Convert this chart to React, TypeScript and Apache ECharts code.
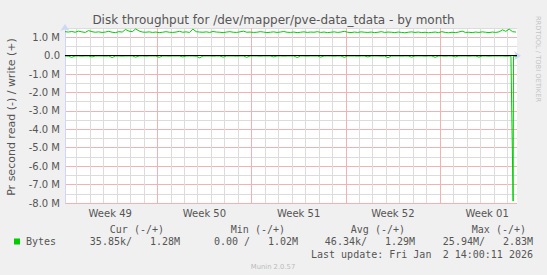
import React, { useEffect, useRef } from 'react';
import * as echarts from 'echarts';

// ---- texts ----
const TITLE = 'Disk throughput for /dev/mapper/pve-data_tdata - by month';
const Y_AXIS_NAME = 'Pr second read (-) / write (+)';
const SIDE_TEXT = 'RRDTOOL / TOBI OETIKER';
const FOOTER = 'Munin 2.0.57';

// ---- x axis (days since Sun 30 Nov 2025 00:00) ----
const X_MIN = 0.14;
const X_MAX = 33.72;
const WEEK_LABELS = ['Week 49', 'Week 50', 'Week 51', 'Week 52', 'Week 01'];
const WEEK_LABEL_DAYS = [3.5, 10.5, 17.5, 24.5, 31.5];
// every midnight inside the range; Sundays (7, 14, 21, 28) get the major colour
const DAY_LINES = [1, 2, 3, 4, 5, 6, 7, 8, 9, 10, 11, 12, 13, 14, 15, 16, 17, 18, 19, 20, 21, 22, 23, 24, 25, 26, 27, 28, 29, 30, 31, 32, 33];

// ---- y axis (M bytes/s) ----
const Y_MIN = -8;
const Y_MAX = 1.5;
const Y_INTERVAL = 0.5;

// ---- series samples (every 6h) ----
const SAMPLE_START = 0.14;
const SAMPLE_STEP = 0.25;
const WRITE_VALUES = [
  1.30, 1.28, 1.31, 1.27, 1.33, 1.29, 1.26, 1.36, 1.30, 1.27,
  1.29, 1.26, 1.28, 1.32, 1.27, 1.25, 1.30, 1.28, 1.42, 1.33,
  1.30, 1.45, 1.34, 1.28, 1.27, 1.29, 1.26, 1.28, 1.25, 1.27,
  1.30, 1.27, 1.26, 1.28, 1.32, 1.27, 1.29, 1.26, 1.44, 1.30,
  1.28, 1.27, 1.29, 1.26, 1.31, 1.28, 1.27, 1.25, 1.28, 1.30,
  1.27, 1.26, 1.29, 1.33, 1.27, 1.28, 1.26, 1.27, 1.30, 1.28,
  1.25, 1.27, 1.29, 1.26, 1.28, 1.31, 1.27, 1.26, 1.28, 1.25,
  1.27, 1.29, 1.26, 1.28, 1.27, 1.30, 1.26, 1.28, 1.25, 1.27,
  1.29, 1.26, 1.28, 1.32, 1.27, 1.25, 1.28, 1.26, 1.29, 1.27,
  1.26, 1.28, 1.25, 1.27, 1.30, 1.26, 1.28, 1.27, 1.25, 1.28,
  1.26, 1.24, 1.27, 1.29, 1.26, 1.28, 1.25, 1.27, 1.24, 1.26,
  1.28, 1.25, 1.30, 1.26, 1.24, 1.27, 1.25, 1.28, 1.33, 1.26,
  1.27, 1.25, 1.28, 1.26, 1.29, 1.27, 1.25, 1.28, 1.26, 1.29,
  1.40, 1.32, 1.44, 1.30, 1.28,
];
const READ_VALUES = [
  -0.02, -0.03, -0.09, -0.02, -0.02, -0.03, -0.02, -0.02, -0.07, -0.02,
  -0.02, -0.02, -0.03, -0.02, -0.10, -0.02, -0.02, -0.03, -0.02, -0.02,
  -0.02, -0.08, -0.02, -0.02, -0.03, -0.02, -0.02, -0.02, -0.09, -0.02,
  -0.02, -0.03, -0.02, -0.02, -0.02, -0.07, -0.02, -0.02, -0.02, -0.03,
  -0.12, -0.02, -0.02, -0.02, -0.03, -0.02, -0.02, -0.08, -0.02, -0.02,
  -0.02, -0.03, -0.02, -0.02, -0.09, -0.02, -0.02, -0.02, -0.03, -0.02,
  -0.02, -0.02, -0.07, -0.02, -0.02, -0.03, -0.02, -0.02, -0.02, -0.10,
  -0.02, -0.02, -0.03, -0.02, -0.02, -0.02, -0.08, -0.02, -0.02, -0.02,
  -0.03, -0.02, -0.02, -0.09, -0.02, -0.02, -0.02, -0.03, -0.02, -0.02,
  -0.07, -0.02, -0.02, -0.02, -0.03, -0.02, -0.11, -0.02, -0.02, -0.02,
  -0.03, -0.02, -0.02, -0.08, -0.02, -0.02, -0.02, -0.03, -0.02, -0.02,
  -0.09, -0.02, -0.02, -0.03, -0.02, -0.02, -0.07, -0.02, -0.02, -0.02,
  -0.03, -0.02, -0.02, -0.08, -0.02, -0.02, -0.03, -0.02, -0.02, -0.02,
  -0.02, -0.03, -0.02,
];
const READ_TAIL: [number, number][] = [
  [33.27, -0.03],
  [33.43, -7.9],
  [33.46, -0.03],
  [33.72, -0.03],
];

// ---- legend table ----
const LEGEND_SERIES = 'Bytes';
const LEGEND_HEADERS = ['Cur (-/+)', 'Min (-/+)', 'Avg (-/+)', 'Max (-/+)'];
const LEGEND_READ = ['35.85k/', '0.00 /', '46.34k/', '25.94M/'];
const LEGEND_WRITE = ['1.28M', '1.02M', '1.29M', '2.83M'];
const LAST_UPDATE_A = 'Last update: Fri Jan';
const LAST_UPDATE_B = '2 14:00:11 2026';

const GREEN = '#00cc00';
const AXIS_COLOR = '#cfd6f8';
const TEXT_COLOR = '#555555';
const MINOR_GRID = '#dcdcdc';
const MAJOR_GRID = '#f2b2b2';
const MONO = '"DejaVu Sans Mono", monospace';
const SANS = '"DejaVu Sans", sans-serif';

export default function App() {
  const ref = useRef<HTMLDivElement>(null);

  useEffect(() => {
    if (!ref.current) return;
    const chart = echarts.init(ref.current, undefined, { renderer: 'svg' });

    const writeData = WRITE_VALUES.map((v, i) => [SAMPLE_START + i * SAMPLE_STEP, v]);
    const readData = READ_VALUES.map((v, i) => [SAMPLE_START + i * SAMPLE_STEP, v]).concat(READ_TAIL);

    const headerRight = [164, 285, 405, 526];
    const readRight = [132, 250, 367, 485];
    const writeRight = [180, 298, 415, 533];

    const monoText = (text: string, x: number, y: number, align: string) => ({
      type: 'text',
      x,
      y,
      silent: true,
      style: { text, fill: TEXT_COLOR, font: `10px ${MONO}`, align, verticalAlign: 'middle' },
    });

    const graphics: any[] = [
      {
        type: 'text', x: 273.5, y: 20, silent: true,
        style: { text: TITLE, fill: TEXT_COLOR, font: `12px ${SANS}`, align: 'center', verticalAlign: 'middle' },
      },
      {
        type: 'text', x: 11, y: 117, rotation: Math.PI / 2, silent: true,
        style: { text: Y_AXIS_NAME, fill: TEXT_COLOR, font: `11px ${SANS}`, align: 'center', verticalAlign: 'middle' },
      },
      {
        type: 'text', x: 538, y: 59, rotation: -Math.PI / 2, silent: true,
        style: { text: SIDE_TEXT, fill: '#c4c4c4', font: `6.7px ${SANS}`, align: 'center', verticalAlign: 'middle' },
      },
      {
        type: 'text', x: 273, y: 267, silent: true,
        style: { text: FOOTER, fill: '#bbbbbb', font: `6.8px ${SANS}`, align: 'center', verticalAlign: 'middle' },
      },
      {
        type: 'rect', shape: { x: 14, y: 238.5, width: 6, height: 6 }, silent: true,
        style: { fill: GREEN },
      },
      monoText(LEGEND_SERIES, 26, 241.5, 'left'),
      monoText(LAST_UPDATE_A, 311, 254, 'left'),
      monoText(LAST_UPDATE_B, 533, 254, 'right'),
    ];
    LEGEND_HEADERS.forEach((h, i) => graphics.push(monoText(h, headerRight[i], 229, 'right')));
    LEGEND_READ.forEach((t, i) => graphics.push(monoText(t, readRight[i], 241.5, 'right')));
    LEGEND_WRITE.forEach((t, i) => graphics.push(monoText(t, writeRight[i], 241.5, 'right')));

    // x split lines: index 0 is day 1, so every 7th (index 6, 13, ...) is a Sunday
    const xLineColors = [MINOR_GRID, MINOR_GRID, MINOR_GRID, MINOR_GRID, MINOR_GRID, MINOR_GRID, MAJOR_GRID];
    // y split lines: index 0 is -8.0 M, then alternating half / whole millions
    const yLineColors = [MAJOR_GRID, MINOR_GRID];

    chart.setOption({
      animation: false,
      backgroundColor: '#f0f0f0',
      grid: { left: 65, right: 30, top: 28, bottom: 72, show: true, backgroundColor: '#ffffff', borderWidth: 0 },
      xAxis: {
        type: 'value',
        min: X_MIN,
        max: X_MAX,
        axisLine: {
          show: true,
          lineStyle: { color: AXIS_COLOR, width: 1 },
          symbol: ['none', 'arrow'],
          symbolSize: [7, 7],
          symbolOffset: [0, 4],
        },
        axisTick: { show: false, customValues: DAY_LINES },
        axisLabel: {
          customValues: WEEK_LABEL_DAYS,
          formatter: (v: number) => {
            const idx = WEEK_LABEL_DAYS.findIndex((d) => Math.abs(d - v) < 1e-6);
            return idx >= 0 ? WEEK_LABELS[idx] : '';
          },
          color: TEXT_COLOR,
          fontSize: 10,
          fontFamily: SANS,
          margin: 5,
        },
        splitLine: {
          show: true,
          lineStyle: { color: xLineColors, type: 'solid', width: 1 },
        },
      },
      yAxis: {
        type: 'value',
        min: Y_MIN,
        max: Y_MAX,
        interval: Y_INTERVAL,
        axisLine: {
          show: true,
          lineStyle: { color: AXIS_COLOR, width: 1 },
          symbol: ['none', 'arrow'],
          symbolSize: [7, 7],
          symbolOffset: [0, 4],
        },
        axisTick: { show: false },
        axisLabel: {
          formatter: (v: number) => {
            if (Math.abs(v - Math.round(v)) > 1e-6) return '';
            if (Math.abs(v) < 1e-6) return '0.0';
            return `${v.toFixed(1)} M`;
          },
          color: TEXT_COLOR,
          fontSize: 10,
          fontFamily: SANS,
          margin: 5,
        },
        splitLine: {
          show: true,
          lineStyle: { color: yLineColors, type: 'solid', width: 1 },
        },
      },
      series: [
        {
          name: 'write',
          type: 'line',
          data: writeData,
          showSymbol: false,
          symbol: 'none',
          z: 3,
          lineStyle: { color: GREEN, width: 1 },
        },
        {
          name: 'read',
          type: 'line',
          data: readData,
          showSymbol: false,
          symbol: 'none',
          z: 3,
          lineStyle: { color: GREEN, width: 1 },
        },
        {
          name: 'zero',
          type: 'line',
          data: [],
          z: 5,
          markLine: {
            silent: true,
            symbol: ['none', 'none'],
            label: { show: false },
            lineStyle: { color: '#000000', type: 'solid', width: 1 },
            data: [{ yAxis: 0 }],
          },
        },
      ],
      graphic: { elements: graphics },
    });

    return () => chart.dispose();
  }, []);

  return (
    <div
      ref={ref}
      style={{ position: 'absolute', left: 0, top: 0, width: 547, height: 275 }}
    />
  );
}
